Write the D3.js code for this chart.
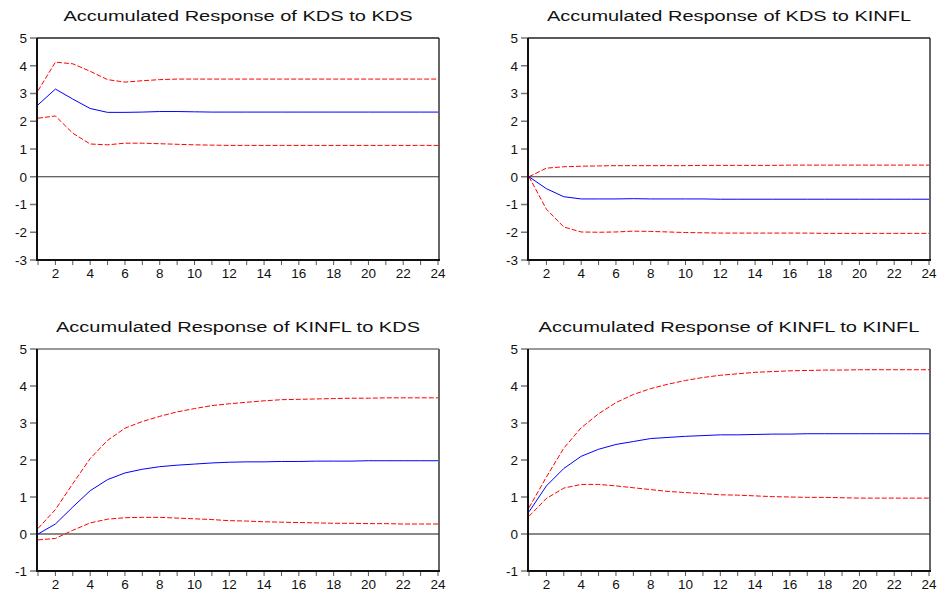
<!DOCTYPE html>
<html>
<head>
<meta charset="utf-8">
<script src="https://cdn.jsdelivr.net/npm/d3@7"></script>
<style>
  body { margin: 0; background: #fff; }
  svg { display: block; font-family: "Liberation Sans", Arial, sans-serif; }
</style>
</head>
<body>
<div id="chart"></div>
<script>
// periods 1..24
const periods = d3.range(1, 25);

// Accumulated Response of KDS to KDS
const kdsKdsMid = [2.59, 3.16, 2.80, 2.46, 2.32, 2.32, 2.33, 2.35, 2.35, 2.34, 2.33, 2.33, 2.33, 2.33, 2.33, 2.33, 2.33, 2.33, 2.33, 2.33, 2.33, 2.33, 2.33, 2.33];
const kdsKdsUp  = [3.10, 4.13, 4.07, 3.80, 3.50, 3.41, 3.46, 3.50, 3.52, 3.52, 3.52, 3.52, 3.52, 3.52, 3.52, 3.52, 3.52, 3.52, 3.52, 3.52, 3.52, 3.52, 3.52, 3.52];
const kdsKdsLo  = [2.11, 2.19, 1.57, 1.18, 1.15, 1.21, 1.21, 1.19, 1.17, 1.15, 1.14, 1.13, 1.13, 1.13, 1.13, 1.13, 1.13, 1.13, 1.13, 1.13, 1.13, 1.13, 1.13, 1.13];

// Accumulated Response of KDS to KINFL
const kdsInfMid = [0, -0.43, -0.72, -0.80, -0.80, -0.80, -0.79, -0.80, -0.80, -0.80, -0.80, -0.81, -0.81, -0.81, -0.81, -0.81, -0.81, -0.81, -0.81, -0.81, -0.81, -0.81, -0.81, -0.81];
const kdsInfUp  = [0, 0.31, 0.36, 0.38, 0.39, 0.40, 0.40, 0.40, 0.40, 0.40, 0.41, 0.41, 0.41, 0.41, 0.41, 0.42, 0.42, 0.42, 0.42, 0.42, 0.42, 0.42, 0.42, 0.42];
const kdsInfLo  = [0, -1.17, -1.81, -1.99, -2.00, -1.99, -1.96, -1.97, -1.99, -2.01, -2.02, -2.03, -2.03, -2.03, -2.03, -2.03, -2.03, -2.04, -2.04, -2.04, -2.04, -2.04, -2.04, -2.04];

// Accumulated Response of KINFL to KDS
const infKdsMid = [0.00, 0.27, 0.73, 1.17, 1.47, 1.65, 1.75, 1.82, 1.86, 1.89, 1.92, 1.94, 1.95, 1.95, 1.96, 1.96, 1.97, 1.97, 1.97, 1.98, 1.98, 1.98, 1.98, 1.98];
const infKdsUp  = [0.15, 0.66, 1.36, 2.04, 2.53, 2.86, 3.04, 3.18, 3.30, 3.39, 3.47, 3.52, 3.56, 3.60, 3.63, 3.64, 3.65, 3.66, 3.67, 3.67, 3.68, 3.68, 3.68, 3.68];
const infKdsLo  = [-0.16, -0.12, 0.10, 0.30, 0.40, 0.44, 0.45, 0.45, 0.43, 0.41, 0.39, 0.36, 0.35, 0.33, 0.32, 0.31, 0.30, 0.29, 0.29, 0.28, 0.28, 0.27, 0.27, 0.27];

// Accumulated Response of KINFL to KINFL
const infInfMid = [0.60, 1.30, 1.77, 2.10, 2.29, 2.42, 2.50, 2.58, 2.61, 2.64, 2.66, 2.68, 2.68, 2.69, 2.70, 2.70, 2.71, 2.71, 2.71, 2.71, 2.71, 2.71, 2.71, 2.71];
const infInfUp  = [0.71, 1.54, 2.32, 2.87, 3.25, 3.55, 3.77, 3.93, 4.05, 4.15, 4.23, 4.29, 4.33, 4.37, 4.39, 4.41, 4.42, 4.43, 4.43, 4.44, 4.44, 4.44, 4.44, 4.44];
const infInfLo  = [0.48, 0.96, 1.24, 1.34, 1.34, 1.30, 1.25, 1.20, 1.15, 1.12, 1.09, 1.06, 1.05, 1.03, 1.01, 1.00, 0.99, 0.99, 0.98, 0.97, 0.97, 0.97, 0.97, 0.97];

const titles = [
  'Accumulated Response of KDS to KDS',
  'Accumulated Response of KDS to KINFL',
  'Accumulated Response of KINFL to KDS',
  'Accumulated Response of KINFL to KINFL'
];
const yDomains = [[-3, 5], [-3, 5], [-1, 5], [-1, 5]];
const xTickLabels = [2, 4, 6, 8, 10, 12, 14, 16, 18, 20, 22, 24];

const panels = [
  { mid: kdsKdsMid, up: kdsKdsUp, lo: kdsKdsLo, left: 37,  top: 38,  titleW: 349, zeroW: 1,   zeroC: '#333' },
  { mid: kdsInfMid, up: kdsInfUp, lo: kdsInfLo, left: 528, top: 38,  titleW: 364, zeroW: 1,   zeroC: '#333' },
  { mid: infKdsMid, up: infKdsUp, lo: infKdsLo, left: 37,  top: 349, titleW: 364, zeroW: 2,   zeroC: '#888' },
  { mid: infInfMid, up: infInfUp, lo: infInfLo, left: 528, top: 349, titleW: 381, zeroW: 2,   zeroC: '#888' }
];

const W = 939, H = 594;
const PW = 402, PH = 222;

const svg = d3.select('#chart').append('svg')
  .attr('width', W)
  .attr('height', H);

panels.forEach((p, i) => {
  const g = svg.append('g').attr('transform', `translate(${p.left},${p.top})`);

  const x = d3.scaleLinear().domain([1, 24]).range([1, PW - 1]);
  const y = d3.scaleLinear().domain(yDomains[i]).range([PH, 0]);

  // title
  g.append('text')
    .attr('x', PW / 2)
    .attr('y', -17)
    .attr('text-anchor', 'middle')
    .attr('textLength', p.titleW)
    .attr('lengthAdjust', 'spacingAndGlyphs')
    .style('font-size', '14px')
    .style('fill', '#111')
    .text(titles[i]);

  // y axis ticks + labels
  const yTicks = d3.range(yDomains[i][0], yDomains[i][1] + 1);
  g.selectAll('.yt').data(yTicks).join('line')
    .attr('x1', -7).attr('x2', 0)
    .attr('y1', d => y(d)).attr('y2', d => y(d))
    .attr('stroke', '#777').attr('stroke-width', 1.5);
  g.selectAll('.yl').data(yTicks).join('text')
    .attr('x', -10)
    .attr('y', d => y(d))
    .attr('dy', '0.36em')
    .attr('text-anchor', 'end')
    .style('font-size', '13.5px')
    .style('fill', '#111')
    .text(d => d);

  // x axis ticks + labels
  g.selectAll('.xt').data(periods).join('line')
    .attr('x1', d => x(d)).attr('x2', d => x(d))
    .attr('y1', PH).attr('y2', PH + 5)
    .attr('stroke', '#555').attr('stroke-width', 1);
  g.selectAll('.xl').data(xTickLabels).join('text')
    .attr('x', d => x(d))
    .attr('y', PH + 18)
    .attr('text-anchor', 'middle')
    .style('font-size', '13.5px')
    .style('fill', '#111')
    .text(d => d);

  // zero line
  g.append('line')
    .attr('x1', 0).attr('x2', PW)
    .attr('y1', y(0)).attr('y2', y(0))
    .attr('stroke', p.zeroC).attr('stroke-width', p.zeroW);

  const line = d3.line().x((d, k) => x(periods[k])).y(d => y(d));

  [p.up, p.lo].forEach(s => {
    g.append('path')
      .attr('d', line(s))
      .attr('fill', 'none')
      .attr('stroke', '#ff0000')
      .attr('stroke-width', 1)
      .attr('stroke-dasharray', '5,2');
  });
  g.append('path')
    .attr('d', line(p.mid))
    .attr('fill', 'none')
    .attr('stroke', '#0000ff')
    .attr('stroke-width', 1);

  // frame
  g.append('line').attr('x1', PW).attr('x2', PW).attr('y1', 0).attr('y2', PH)
    .attr('stroke', '#333').attr('stroke-width', 1.5);
  g.append('line').attr('x1', 0).attr('x2', PW).attr('y1', 0).attr('y2', 0)
    .attr('stroke', i < 2 ? '#222' : '#777').attr('stroke-width', 1.5);
  g.append('line').attr('x1', 0).attr('x2', 0).attr('y1', 0).attr('y2', PH + 1)
    .attr('stroke', '#111').attr('stroke-width', 2);
  g.append('line').attr('x1', -1).attr('x2', PW + 1).attr('y1', PH).attr('y2', PH)
    .attr('stroke', '#111').attr('stroke-width', 2);
});
</script>
</body>
</html>
